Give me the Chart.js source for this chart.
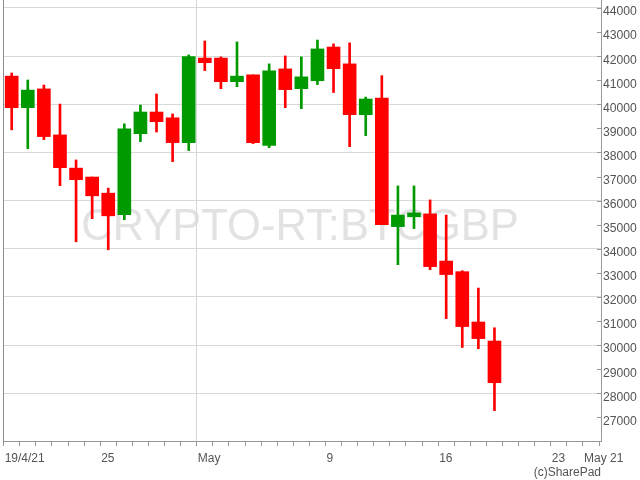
<!DOCTYPE html>
<html>
<head>
<meta charset="utf-8">
<script src="https://cdn.jsdelivr.net/npm/chart.js@4.4.0/dist/chart.umd.min.js"></script>
<style>
  html, body { margin: 0; padding: 0; background: #fff; }
</style>
</head>
<body>
<canvas id="chart" width="640" height="480"></canvas>
<script>
// daily BTC/GBP candles, 19 Apr - 19 May 2021
const dates = [
  "2021-04-19", "2021-04-20", "2021-04-21", "2021-04-22", "2021-04-23", "2021-04-24", "2021-04-25",
  "2021-04-26", "2021-04-27", "2021-04-28", "2021-04-29", "2021-04-30", "2021-05-01", "2021-05-02",
  "2021-05-03", "2021-05-04", "2021-05-05", "2021-05-06", "2021-05-07", "2021-05-08", "2021-05-09",
  "2021-05-10", "2021-05-11", "2021-05-12", "2021-05-13", "2021-05-14", "2021-05-15", "2021-05-16",
  "2021-05-17", "2021-05-18", "2021-05-19"
];
const opens = [41170, 39860, 40640, 38730, 37350, 36980, 36310, 35420, 38780, 39680, 39440, 38410, 41920, 41920, 40940, 41220,
  38290, 41470, 40650, 40980, 42380, 41680, 39570, 40260, 34920, 35330, 35450, 33490, 33050, 30960, 30170];
const highs = [41300, 41010, 40800, 40010, 37690, 36980, 36520, 39190, 39970, 40430, 39600, 42050, 42630, 41970, 42590, 41220,
  41680, 42010, 41970, 42670, 42510, 42550, 40300, 41190, 36610, 36610, 36030, 35400, 33090, 32370, 30720];
const lows = [38940, 38160, 38530, 36620, 34290, 35250, 33960, 35210, 38450, 38850, 37620, 38080, 41400, 40650, 40730, 38370,
  38200, 39860, 39820, 40820, 40490, 38240, 38700, 35000, 33340, 34840, 33130, 31100, 29900, 29850, 27280];
const closes = [39860, 40590, 38660, 37370, 36870, 36200, 35370, 38980, 39680, 39280, 38410, 41980, 41730, 40940, 41170, 38410,
  41390, 40610, 41140, 42300, 41480, 39570, 40220, 35000, 35400, 35490, 33260, 32930, 30770, 30270, 28440];

const yTicks = [27000, 28000, 29000, 30000, 31000, 32000, 33000, 34000, 35000, 36000, 37000, 38000, 39000, 40000, 41000, 42000, 43000, 44000];
const tickDays = [0, 6, 12, 20, 27, 34, 36];
const tickLabels = ["19/4/21", "25", "May", "9", "16", "23", "May 21"];
const watermark = "CRYPTO-RT:BTCGBP";
const credit = "(c)SharePad";

const FONT = '"Liberation Sans", Arial, sans-serif';
const UP = "#009a00";
const DOWN = "#ff0000";

const start = Date.parse(dates[0]);
const xs = dates.map(d => (Date.parse(d) - start) / 864e5 + 0.5);
const colors = opens.map((o, i) => closes[i] >= o ? UP : DOWN);

const watermarkPlugin = {
  id: "watermark",
  beforeDraw(chart) {
    const { ctx, chartArea } = chart;
    ctx.save();
    ctx.font = "43.5px " + FONT;
    ctx.fillStyle = "#e2e2e2";
    ctx.textAlign = "center";
    ctx.textBaseline = "alphabetic";
    ctx.fillText(watermark, (chartArea.left + chartArea.right) / 2 - 2, 239.5);
    ctx.restore();
  }
};

const framePlugin = {
  id: "frame",
  afterDraw(chart) {
    const { ctx, chartArea } = chart;
    const y = chart.scales.y;
    ctx.save();
    ctx.strokeStyle = "#8c8c8c";
    ctx.lineWidth = 1;
    ctx.beginPath();
    ctx.moveTo(chartArea.left + 0.5, 0);
    ctx.lineTo(chartArea.left + 0.5, chartArea.bottom + 2);
    ctx.stroke();
    // short inner tick marks on the price axis
    ctx.strokeStyle = "#999";
    ctx.beginPath();
    yTicks.forEach(v => {
      const py = Math.round(y.getPixelForValue(v)) + 0.5;
      ctx.moveTo(chartArea.right - 4, py);
      ctx.lineTo(chartArea.right, py);
    });
    ctx.stroke();
    ctx.font = "12px " + FONT;
    ctx.fillStyle = "#555";
    ctx.textAlign = "right";
    ctx.textBaseline = "middle";
    ctx.fillText(credit, chartArea.right, 473);
    ctx.restore();
  }
};

new Chart(document.getElementById("chart").getContext("2d"), {
  type: "bar",
  data: {
    datasets: [
      {
        label: "body",
        data: xs.map((x, i) => ({ x: x, y: [opens[i], closes[i]] })),
        backgroundColor: colors,
        borderWidth: 0,
        barThickness: 13,
        grouped: false
      },
      {
        label: "wick",
        data: xs.map((x, i) => ({ x: x, y: [lows[i], highs[i]] })),
        backgroundColor: colors,
        borderWidth: 0,
        barThickness: 2,
        grouped: false
      }
    ]
  },
  options: {
    responsive: false,
    animation: false,
    events: [],
    layout: { padding: { left: 3, top: 0, right: 0, bottom: 0 } },
    plugins: { legend: { display: false }, tooltip: { enabled: false } },
    scales: {
      x: {
        type: "linear",
        position: "bottom",
        min: -0.04,
        max: 37.12,
        offset: false,
        afterBuildTicks: s => {
          s.ticks = [];
          for (let d = 0; d <= 37; d++) s.ticks.push({ value: d });
        },
        ticks: {
          autoSkip: false,
          maxRotation: 0,
          align: "start",
          padding: 5,
          labelOffset: 1,
          color: "#555",
          font: { family: FONT, size: 12 },
          callback: v => {
            const k = tickDays.indexOf(v);
            return k >= 0 ? tickLabels[k] : "";
          }
        },
        grid: {
          offset: false,
          color: c => (c.tick && c.tick.value === 12) ? "#d6d6d6" : "rgba(0,0,0,0)",
          tickColor: "#999",
          tickLength: 5
        },
        border: { color: "#999" },
        afterFit: s => { s.height = 39; s.paddingLeft = 0; s.paddingRight = 0; }
      },
      y: {
        type: "linear",
        position: "right",
        min: 26018,
        max: 44332,
        afterBuildTicks: s => { s.ticks = yTicks.map(v => ({ value: v })); },
        ticks: {
          padding: 2,
          labelOffset: 4,
          color: "#555",
          font: { family: FONT, size: 12.2 },
          callback: v => String(v)
        },
        grid: {
          color: c => (yTicks[c.index] % 2000 === 0) ? "#d9d9d9" : "rgba(0,0,0,0)",
          drawTicks: false
        },
        border: { color: "#999" },
        afterFit: s => { s.width = 39; s.paddingTop = 0; s.paddingBottom = 0; }
      }
    }
  },
  plugins: [watermarkPlugin, framePlugin]
});
</script>
</body>
</html>
